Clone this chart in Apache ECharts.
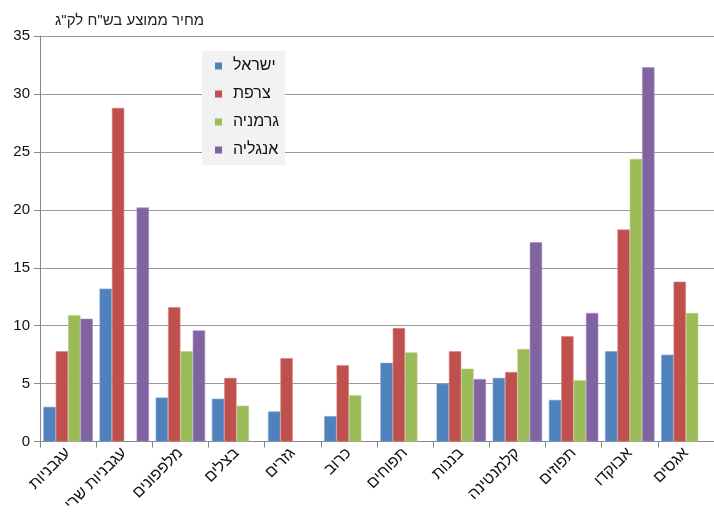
<!DOCTYPE html>
<html><head><meta charset="utf-8">
<script src="https://cdn.jsdelivr.net/npm/echarts@6/dist/echarts.min.js"></script>
<style>html,body{margin:0;padding:0;background:#fff}#c{width:714px;height:515px}</style>
</head><body><div id="c"></div>
<script>
const categories = ['עגבניות','עגבניות שרי','מלפפונים','בצלים','גזרים','כרוב','תפוחים','בננות','קלמנטינה','תפוזים','אבוקדו','אגסים'];
const seriesNames = ['ישראל','צרפת','גרמניה','אנגליה'];
const israel  = [3.0, 13.2, 3.8, 3.7, 2.6, 2.2, 6.8, 5.0, 5.5, 3.6, 7.8, 7.5];
const france  = [7.8, 28.8, 11.6, 5.5, 7.2, 6.6, 9.8, 7.8, 6.0, 9.1, 18.3, 13.8];
const germany = [10.9, null, 7.8, 3.1, null, 4.0, 7.7, 6.3, 8.0, 5.3, 24.4, 11.1];
const england = [10.6, 20.2, 9.6, null, null, null, null, 5.4, 17.2, 11.1, 32.3, null];
const yTicks = [0,5,10,15,20,25,30,35];
const titleText = 'מחיר ממוצע בש"ח לק"ג';

const colors = ['#4F81BD','#C0504D','#9BBB59','#8064A2'];
const borders = ['#7FA3D3','#D98583','#B9D08A','#A38FC0'];
const font = "'Liberation Sans', 'DejaVu Sans', sans-serif";
const data = [israel, france, germany, england];

const chart = echarts.init(document.getElementById('c'), null, {renderer:'canvas'});
chart.setOption({
  animation:false,
  textStyle:{fontFamily:font},
  title:{text:titleText,left:50,top:8,textStyle:{fontSize:15,fontWeight:'normal',color:'#222',fontFamily:font}},
  legend:{
    orient:'vertical', left:202, top:51, itemWidth:7, itemHeight:7, itemGap:12,
    backgroundColor:'#f2f2f2', padding:[7,6,7,13],
    textStyle:{fontSize:16,color:'#111',fontFamily:font,padding:[0,0,0,6]},
    itemStyle:{borderWidth:0},
    icon:'rect',
    data:seriesNames
  },
  grid:{left:40,right:0,top:36,bottom:71},
  xAxis:{
    type:'category', data:categories,
    axisLine:{lineStyle:{color:'#888'}},
    axisTick:{show:true,length:6,alignWithLabel:false,lineStyle:{color:'#888'}},
    axisLabel:{rotate:45,fontSize:16,color:'#111',margin:9,interval:0}
  },
  yAxis:{
    type:'value', min:yTicks[0], max:yTicks[yTicks.length-1], interval:5,
    axisLine:{show:true,lineStyle:{color:'#888'}},
    axisTick:{show:true,length:6,lineStyle:{color:'#888'}},
    splitLine:{lineStyle:{color:'#999'}},
    axisLabel:{fontSize:15,color:'#111',margin:10}
  },
  series: seriesNames.map((n,i)=>({
    name:n, type:'bar', data:data[i], barGap:'0%', barCategoryGap:'12%',
    itemStyle:{color:colors[i],borderColor:borders[i],borderWidth:0.6}
  }))
});
</script></body></html>
